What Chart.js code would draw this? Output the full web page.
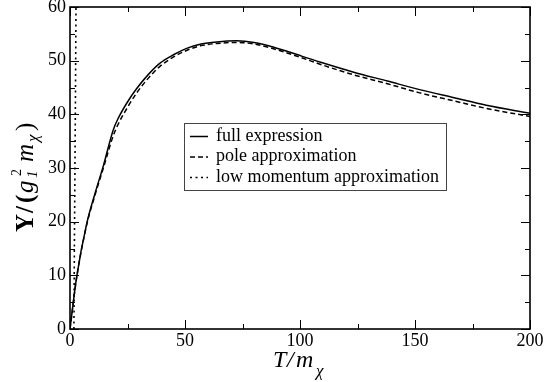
<!DOCTYPE html>
<html>
<head>
<meta charset="utf-8">
<script src="https://cdn.jsdelivr.net/npm/chart.js@4/dist/chart.umd.min.js"></script>
<style>
html,body{margin:0;padding:0;background:#fff;}
#wrap{width:545px;height:382px;position:relative;}
</style>
</head>
<body>
<div id="wrap"><canvas id="c"></canvas></div>
<script>
// ---- data ----
const fullT = [0, 2.9, 7.2, 10.9, 14.5, 18.8, 21, 25, 29, 34, 39, 45, 50.7, 57, 63.8, 72.5, 80, 87, 94, 101, 109, 123, 138, 152, 167, 181, 200];
const fullY = [0, 9.7, 19.5, 25.3, 30.4, 37.1, 39.3, 42.3, 44.8, 47.4, 49.5, 51.1, 52.3, 53.1, 53.5, 53.7, 53.4, 52.7, 51.8, 50.8, 49.7, 47.9, 46.2, 44.6, 43.1, 41.7, 40.2];
const poleT = [0, 2.9, 7.2, 10.9, 14.5, 18.8, 21, 25, 29, 34, 39, 45, 50.7, 57, 63.8, 72.5, 80, 87, 94, 101, 109, 123, 138, 152, 167, 181, 200];
const poleY = [0, 9.6, 19.3, 25.0, 30.0, 36.0, 38.2, 41.3, 44.0, 46.7, 48.9, 50.7, 51.9, 52.8, 53.2, 53.4, 53.1, 52.4, 51.5, 50.5, 49.3, 47.4, 45.7, 44.0, 42.5, 41.1, 39.6];
const lowT = [1.7, 1.9, 2.15, 2.4, 2.6];
const lowY = [0, 15, 30, 45, 60];
const xTicks = [0, 50, 100, 150, 200];
const yTicks = [0, 10, 20, 30, 40, 50, 60];
const xMinor = [25, 75, 125, 175];
const yMinor = [5, 15, 25, 35, 45, 55];
const legendLabels = ["full expression", "pole approximation", "low momentum approximation"];

const pts = (xs, ys) => xs.map((x, i) => ({x: x, y: ys[i]}));
const SERIF = '"Liberation Serif", "DejaVu Serif", serif';

const deco = {
  id: 'deco',
  afterDatasetsDraw(chart) {
    const ctx = chart.ctx;
    const xs = chart.scales.x, ys = chart.scales.y;
    const a = chart.chartArea;
    ctx.save();
    // ticks (inward, on all four sides)
    ctx.strokeStyle = '#000';
    ctx.lineWidth = 1;
    const tick = (v, len, isX) => {
      ctx.beginPath();
      if (isX) {
        const p = Math.round(xs.getPixelForValue(v)) + 0.5;
        ctx.moveTo(p, a.bottom); ctx.lineTo(p, a.bottom - len);
        ctx.moveTo(p, a.top); ctx.lineTo(p, a.top + len);
      } else {
        const p = Math.round(ys.getPixelForValue(v)) + 0.5;
        ctx.moveTo(a.left, p); ctx.lineTo(a.left + len, p);
        ctx.moveTo(a.right, p); ctx.lineTo(a.right - len, p);
      }
      ctx.stroke();
    };
    xTicks.forEach(v => tick(v, 9, true));
    xMinor.forEach(v => tick(v, 5, true));
    yTicks.forEach(v => tick(v, 9, false));
    yMinor.forEach(v => tick(v, 5, false));
    // frame
    ctx.lineWidth = 1.6;
    ctx.strokeRect(a.left, a.top, a.right - a.left, a.bottom - a.top);

    // legend box
    const lx = 184, ly = 123, lw = 262, lh = 67;
    ctx.fillStyle = '#fff';
    ctx.fillRect(lx, ly, lw, lh);
    ctx.lineWidth = 1;
    ctx.strokeStyle = '#444';
    ctx.strokeRect(lx + 0.5, ly + 0.5, lw, lh);
    const dashes = [[], [5, 3], [2, 3.5]];
    ctx.fillStyle = '#000';
    ctx.strokeStyle = '#000';
    ctx.font = '18px ' + SERIF;
    ctx.textBaseline = 'middle';
    ctx.textAlign = 'left';
    legendLabels.forEach((t, i) => {
      const yy = 136 + i * 20.5;
      ctx.setLineDash(dashes[i]);
      ctx.lineWidth = 1.5;
      ctx.beginPath();
      ctx.moveTo(190, yy + 0.5); ctx.lineTo(208, yy + 0.5);
      ctx.stroke();
      ctx.setLineDash([]);
      ctx.fillText(t, 216, yy);
    });

    // x title: T/m_chi
    ctx.textBaseline = 'alphabetic';
    const xParts = [
      {t: 'T', f: 'italic 24px ' + SERIF, x: 273, y: 367},
      {t: '/', f: 'italic 24px ' + SERIF, x: 287, y: 367},
      {t: 'm', f: 'italic 24px ' + SERIF, x: 296, y: 367},
      {t: 'χ', f: 'italic 17px ' + SERIF, x: 316, y: 376}
    ];
    xParts.forEach(p => { ctx.font = p.f; ctx.fillText(p.t, p.x, p.y); });

    // y title: Y/(g_1^2 m_chi)  (offsets along the rotated baseline)
    ctx.translate(33, 232);
    ctx.rotate(-Math.PI / 2);
    const yParts = [
      {t: 'Y', f: 'bold 25px ' + SERIF, o: 0, dy: 0},
      {t: '/', f: 'bold 25px ' + SERIF, o: 19, dy: 0},
      {t: '(', f: 'bold 25px ' + SERIF, o: 29, dy: 0},
      {t: 'g', f: 'italic 25px ' + SERIF, o: 39, dy: 0},
      {t: '1', f: 'italic 15px ' + SERIF, o: 54, dy: 4},
      {t: '2', f: '14px ' + SERIF, o: 56, dy: -12},
      {t: 'm', f: 'italic 25px ' + SERIF, o: 70, dy: 0},
      {t: 'χ', f: 'italic 17px ' + SERIF, o: 90, dy: 5},
      {t: ')', f: '25px ' + SERIF, o: 101, dy: 0}
    ];
    yParts.forEach(p => { ctx.font = p.f; ctx.fillText(p.t, p.o, p.dy); });
    ctx.restore();
  }
};

new Chart(document.getElementById('c'), {
  type: 'line',
  data: {
    datasets: [
      {label: legendLabels[0], data: pts(fullT, fullY), borderColor: '#000', borderWidth: 1.5, pointRadius: 0, cubicInterpolationMode: 'monotone', fill: false},
      {label: legendLabels[1], data: pts(poleT, poleY), borderColor: '#000', borderWidth: 1.5, borderDash: [5, 3], pointRadius: 0, cubicInterpolationMode: 'monotone', fill: false},
      {label: legendLabels[2], data: pts(lowT, lowY), borderColor: '#000', borderWidth: 1.6, borderDash: [2, 3.5], pointRadius: 0, tension: 0, fill: false}
    ]
  },
  options: {
    responsive: true,
    maintainAspectRatio: false,
    animation: false,
    layout: {padding: {top: 7, right: 15, left: 0, bottom: 0}},
    plugins: {legend: {display: false}, tooltip: {enabled: false}},
    scales: {
      x: {
        type: 'linear', min: 0, max: 200,
        afterFit: s => { s.height = 53; s.paddingLeft = 0; s.paddingRight = 0; },
        afterBuildTicks: s => { s.ticks = xTicks.map(v => ({value: v})); },
        grid: {display: false, drawTicks: false},
        border: {display: false},
        ticks: {color: '#000', padding: 1, maxRotation: 0, font: {family: SERIF, size: 18}}
      },
      y: {
        type: 'linear', min: 0, max: 60,
        afterFit: s => { s.width = 70; s.paddingTop = 0; s.paddingBottom = 0; },
        afterBuildTicks: s => { s.ticks = yTicks.map(v => ({value: v})); },
        grid: {display: false, drawTicks: false},
        border: {display: false},
        ticks: {color: '#000', padding: 4, font: {family: SERIF, size: 18}}
      }
    }
  },
  plugins: [deco]
});
</script>
</body>
</html>
